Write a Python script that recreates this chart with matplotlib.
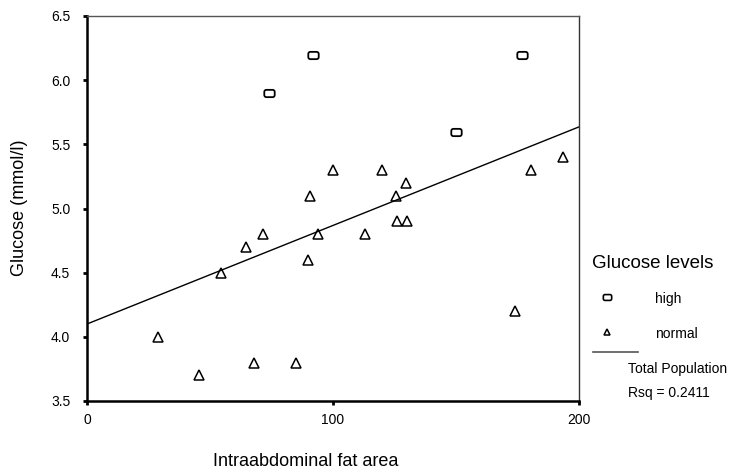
import numpy as np
import matplotlib
matplotlib.use('Agg')
import matplotlib.pyplot as plt
from matplotlib.path import Path
from matplotlib.lines import Line2D

plt.rcParams['font.family'] = ['Liberation Sans', 'DejaVu Sans']

# glucose "high" group
high_fat = [74, 92, 150, 177]
high_glu = [5.9, 6.2, 5.6, 6.2]

# glucose "normal" group
normal_fat = [29, 45.5, 54.5, 64.5, 71.5, 68, 85, 90, 90.5, 94, 100,
              113, 120, 125.5, 129.5, 126, 130, 180.5, 193.5, 174]
normal_glu = [4.0, 3.7, 4.5, 4.7, 4.8, 3.8, 3.8, 4.6, 5.1, 4.8, 5.3,
              4.8, 5.3, 5.1, 5.2, 4.9, 4.9, 5.3, 5.4, 4.2]

# total population fit
fit_intercept = 4.1
fit_slope = 0.00768
rsq_text = 'Rsq = 0.2411'


def rounded_rect(w=1.0, h=0.7, r=0.2, n=8):
    # rounded rectangle marker outline
    pts = []
    corners = [(w / 2 - r, h / 2 - r, 0), (-w / 2 + r, h / 2 - r, 90),
               (-w / 2 + r, -h / 2 + r, 180), (w / 2 - r, -h / 2 + r, 270)]
    for cx, cy, a0 in corners:
        t = np.radians(np.linspace(a0, a0 + 90, n))
        pts += list(zip(cx + r * np.cos(t), cy + r * np.sin(t)))
    pts.append(pts[0])
    return Path(pts, closed=True)


rr = rounded_rect()

fig = plt.figure(figsize=(7.32, 4.72), dpi=100)
ax = fig.add_axes([87 / 732, 1 - 401 / 472, 492 / 732, 385 / 472])

ax.plot(high_fat, high_glu, linestyle='none', marker=rr, markersize=7.5,
        markerfacecolor='none', markeredgecolor='black', markeredgewidth=1.3)
ax.plot(normal_fat, normal_glu, linestyle='none', marker='^', markersize=6.5,
        markerfacecolor='none', markeredgecolor='black', markeredgewidth=1.1)

xs = np.array([0, 200])
ax.plot(xs, fit_intercept + fit_slope * xs, color='black', linewidth=1.0)

ax.set_xlim(0, 200)
ax.set_ylim(3.5, 6.5)
ax.set_xticks([0, 100, 200])
ax.set_yticks([3.5, 4.0, 4.5, 5.0, 5.5, 6.0, 6.5])
ax.set_yticklabels(['3.5', '4.0', '4.5', '5.0', '5.5', '6.0', '6.5'])
ax.tick_params(axis='both', labelsize=10, direction='out', length=3, width=2,
               color='black', pad=9)
ax.tick_params(axis='x', pad=6)

ax.spines['left'].set_linewidth(1.8)
ax.spines['bottom'].set_linewidth(1.8)
ax.spines['top'].set_linewidth(1.0)
ax.spines['top'].set_color('#555555')
ax.spines['right'].set_linewidth(1.0)
ax.spines['right'].set_color('#333333')

fig.text(306 / 732, 1 - 462 / 472, 'Intraabdominal fat area', fontsize=13,
         ha='center', va='center')
fig.text(20 / 732, 1 - 208 / 472, 'Glucose (mmol/l)', fontsize=13,
         ha='center', va='center', rotation=90)

# legend drawn outside the axes
fig.text(592 / 732, 1 - 263 / 472, 'Glucose levels', fontsize=13.5,
         ha='left', va='center')
fig.add_artist(Line2D([607 / 732], [1 - 297 / 472], marker=rr, markersize=6,
                      markerfacecolor='none', markeredgecolor='black',
                      markeredgewidth=1.2, transform=fig.transFigure))
fig.text(655 / 732, 1 - 299 / 472, 'high', fontsize=10, ha='left', va='center')
fig.add_artist(Line2D([607 / 732], [1 - 332 / 472], marker='^', markersize=5,
                      markerfacecolor='none', markeredgecolor='black',
                      markeredgewidth=1.1, transform=fig.transFigure))
fig.text(655 / 732, 1 - 334 / 472, 'normal', fontsize=10, ha='left', va='center')
fig.add_artist(Line2D([593 / 732, 638 / 732], [1 - 352 / 472] * 2,
                      color='#555555', linewidth=1.2, transform=fig.transFigure))
fig.text(628 / 732, 1 - 369 / 472, 'Total Population', fontsize=10,
         ha='left', va='center')
fig.text(628 / 732, 1 - 393 / 472, rsq_text, fontsize=10, ha='left', va='center')

fig.savefig('out.png', dpi=100)
